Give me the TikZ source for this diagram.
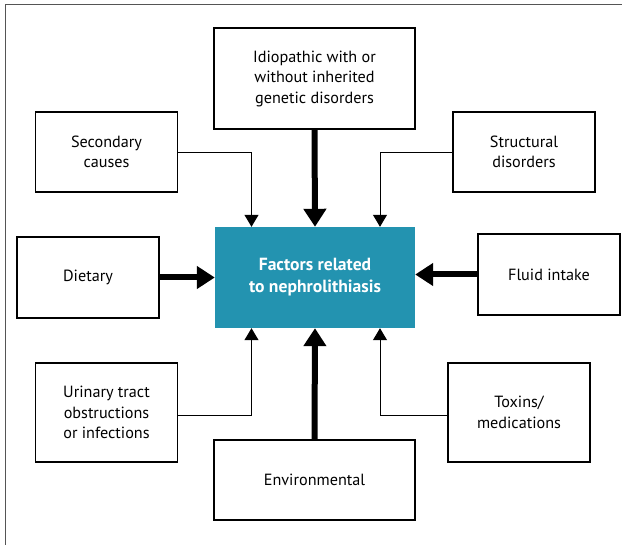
\documentclass[tikz,border=0pt]{standalone}
\usepackage{fontspec}
\setmainfont{PT Sans}
\usepackage{xcolor}
\usetikzlibrary{arrows.meta,positioning,calc}
\definecolor{nephroteal}{HTML}{2393B0}
\definecolor{framegray}{HTML}{555555}

\begin{document}
\begin{tikzpicture}[x=1pt, y=-1pt, font=\fontsize{16.2}{20.5}\selectfont,
  factor/.style={draw, line width=1.2pt, align=center, inner sep=2pt, minimum width=142pt, minimum height=80pt},
  hub/.style={fill=nephroteal, text=white, font=\fontsize{17.6}{22}\selectfont\bfseries, align=center, minimum width=200pt, minimum height=101pt},
  thinarr/.style={-{Triangle[width=14pt,length=12pt]}, line width=1pt},
  thickarr/.style={-{Triangle[width=22pt,length=18pt]}, line width=6pt}]
  \useasboundingbox (0,0) rectangle (625,545);
  \draw[framegray, line width=1pt] (5,545) -- (5,5) -- (622,5);
  \node[hub] (hub) at (315,277.5) {Factors related\\to nephrolithiasis};
  \node[factor, minimum width=201pt, minimum height=101pt] (idio) at (314.5,78.5) {Idiopathic with or\\without inherited\\genetic disorders};
  \node[factor] (second) at (106.5,152) {Secondary\\causes};
  \node[factor] (struct) at (524,152) {Structural\\disorders};
  \node[factor, minimum height=81pt] (diet) at (88,277.5) {Dietary};
  \node[factor, minimum height=81pt] (fluid) at (549,274.5) {Fluid intake};
  \node[factor, minimum height=99pt] (urin) at (106.5,412.5) {Urinary tract\\obstructions\\or infections};
  \node[factor, minimum width=201pt] (env) at (314.5,480) {Environmental};
  \node[factor, minimum height=99pt] (tox) at (519,412.5) {Toxins/\\medications};
  % thin elbow connectors
  \draw[thinarr] ($(second.east)+(0,1)$) -| ($(hub.north)+(-63.5,0)$);
  \draw[thinarr] ($(struct.west)+(0,1)$) -| ($(hub.north)+(65,0)$);
  \draw[thinarr] ($(urin.east)+(0,3.5)$) -| ($(hub.south)+(-63.5,0)$);
  \draw[thinarr] ($(tox.west)+(0,3.5)$) -| ($(hub.south)+(65,0)$);
  % thick straight connectors
  \draw[thickarr] (idio.south) -- (hub.north);
  \draw[thickarr] (env.north) -- (hub.south);
  \draw[thickarr] (diet.east) -- (hub.west);
  \draw[thickarr] (fluid.west) -- (fluid.west -| hub.east);
\end{tikzpicture}
\end{document}
